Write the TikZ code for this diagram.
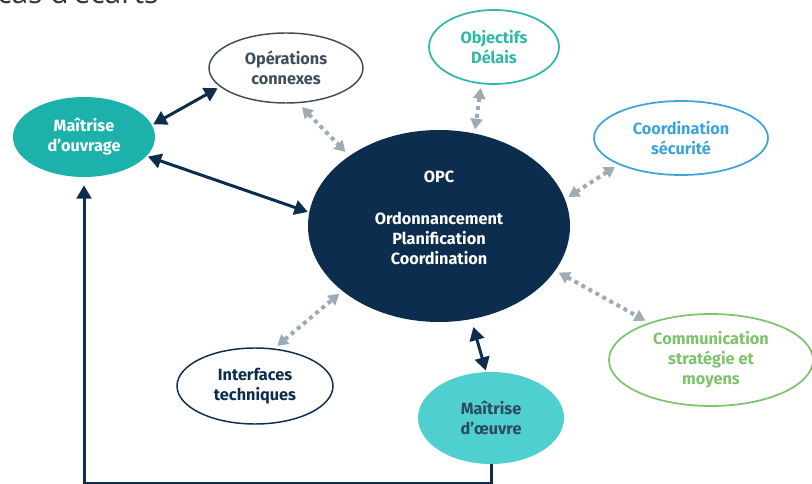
\documentclass[tikz,border=0pt]{standalone}
\usepackage{fontspec}
\setmainfont{Fira Sans}
\newfontfamily\titlefont{Open Sans}
\usepackage{xcolor}
\usetikzlibrary{arrows.meta}
\usetikzlibrary{calc}
\usetikzlibrary{shapes.geometric}

\definecolor{opcnavy}{HTML}{0C2D4E}
\definecolor{moteal}{HTML}{1CB2AB}
\definecolor{moeteal}{HTML}{50CFD0}
\definecolor{objteal}{HTML}{2DB8A8}
\definecolor{csblue}{HTML}{3CA3DB}
\definecolor{comgreen}{HTML}{7DC36B}
\definecolor{opsslate}{HTML}{3E4D5C}
\definecolor{moeslate}{HTML}{2E4A5E}
\definecolor{dotgray}{HTML}{9DABB4}

\tikzset{
    bubble/.style={ellipse, inner sep=0pt, align=center, font=\bfseries\fontsize{12.2}{15}\selectfont},
    solidlink/.style={draw=opcnavy, line width=2.25pt, {Triangle[length=10pt,width=11pt]}-{Triangle[length=10pt,width=11pt]}},
    dotlink/.style={draw=dotgray, line width=3pt, dash pattern=on 3pt off 3pt, {Triangle[length=8pt,width=9pt]}-{Triangle[length=8pt,width=9pt]}}
}

\begin{document}
\begin{tikzpicture}[x=0.75pt,y=-0.75pt]
        \newcommand{\figopcwidth}{196.5pt}
        \newcommand{\figopcheight}{144pt}
        \useasboundingbox (0,0) rectangle (812,484);
        \begin{scope}
            \clip (0,0) rectangle (812,484);
            % cropped heading
            \node[anchor=base west, inner sep=0pt, text=black!80, font=\titlefont\fontsize{22.5}{24}\selectfont] (head) at (-3,4) {cas d'écarts};
            % centre
            \node[bubble, fill=opcnavy, minimum width=\figopcwidth, minimum height=\figopcheight] (opc) at (439,226) {};
            \node[bubble, text=white] (opctext) at ([yshift=6pt]opc.center) {OPC\\[16pt]Ordonnancement\\Planification\\Coordination};
            % actors
            \node[bubble, fill=moteal, text=white, minimum width=106.5pt, minimum height=60pt] (mo) at (84,137) {Maîtrise\\d’ouvrage};
            \node[bubble, fill=moeteal, text=moeslate, minimum width=109.5pt, minimum height=69pt] (moe) at (491,418) {Maîtrise\\d’œuvre};
            % satellites
            \node[bubble, draw=opsslate, line width=1.1pt, text=opsslate, minimum width=115.5pt, minimum height=52.5pt] (ops) at (286,68) {Opérations\\connexes};
            \node[bubble, draw=objteal, line width=1.3pt, text=objteal, minimum width=97.5pt, minimum height=55.5pt] (obj) at (494,47) {Objectifs\\Délais};
            \node[bubble, draw=csblue, line width=1.3pt, text=csblue, minimum width=130.5pt, minimum height=55.5pt] (cs) at (681,138) {Coordination\\sécurité};
            \node[bubble, draw=comgreen, line width=1.3pt, text=comgreen, minimum width=153pt, minimum height=69pt] (com) at (711,360) {Communication\\stratégie et\\moyens};
            \node[bubble, draw=opcnavy, line width=1.1pt, text=opcnavy, minimum width=117pt, minimum height=57pt] (it) at (255,386) {Interfaces\\techniques};
            % solid links
            \draw[solidlink, shorten <=1pt, shorten >=2pt] (mo.10) -- (ops.196);
            \draw[solidlink, shorten <=1pt, shorten >=1pt] (mo.-17) -- (opc.174);
            \draw[solidlink, shorten <=6pt, shorten >=1pt] (opc.-71) -- (moe.96);
            \coordinate (bottom) at (0,483);
            \draw[draw=opcnavy, line width=2.25pt, -{Triangle[length=10pt,width=11pt]}, shorten >=6pt] (moe.south) -- (moe.south |- bottom) -- (mo.south |- bottom) -- (mo.south);
            % dotted links
            \draw[dotlink, shorten <=4pt, shorten >=4pt] (ops.-71) -- (opc.142);
            \draw[dotlink, shorten <=3pt, shorten >=3pt] (obj.-109) -- (opc.69);
            \draw[dotlink, shorten <=3pt, shorten >=3pt] (cs.203) -- (opc.12);
            \draw[dotlink, shorten <=3pt, shorten >=3pt] (opc.-21) -- (com.149);
            \draw[dotlink, shorten <=3pt, shorten >=3pt] (it.63) -- (opc.214);
        \end{scope}
\end{tikzpicture}
\end{document}
